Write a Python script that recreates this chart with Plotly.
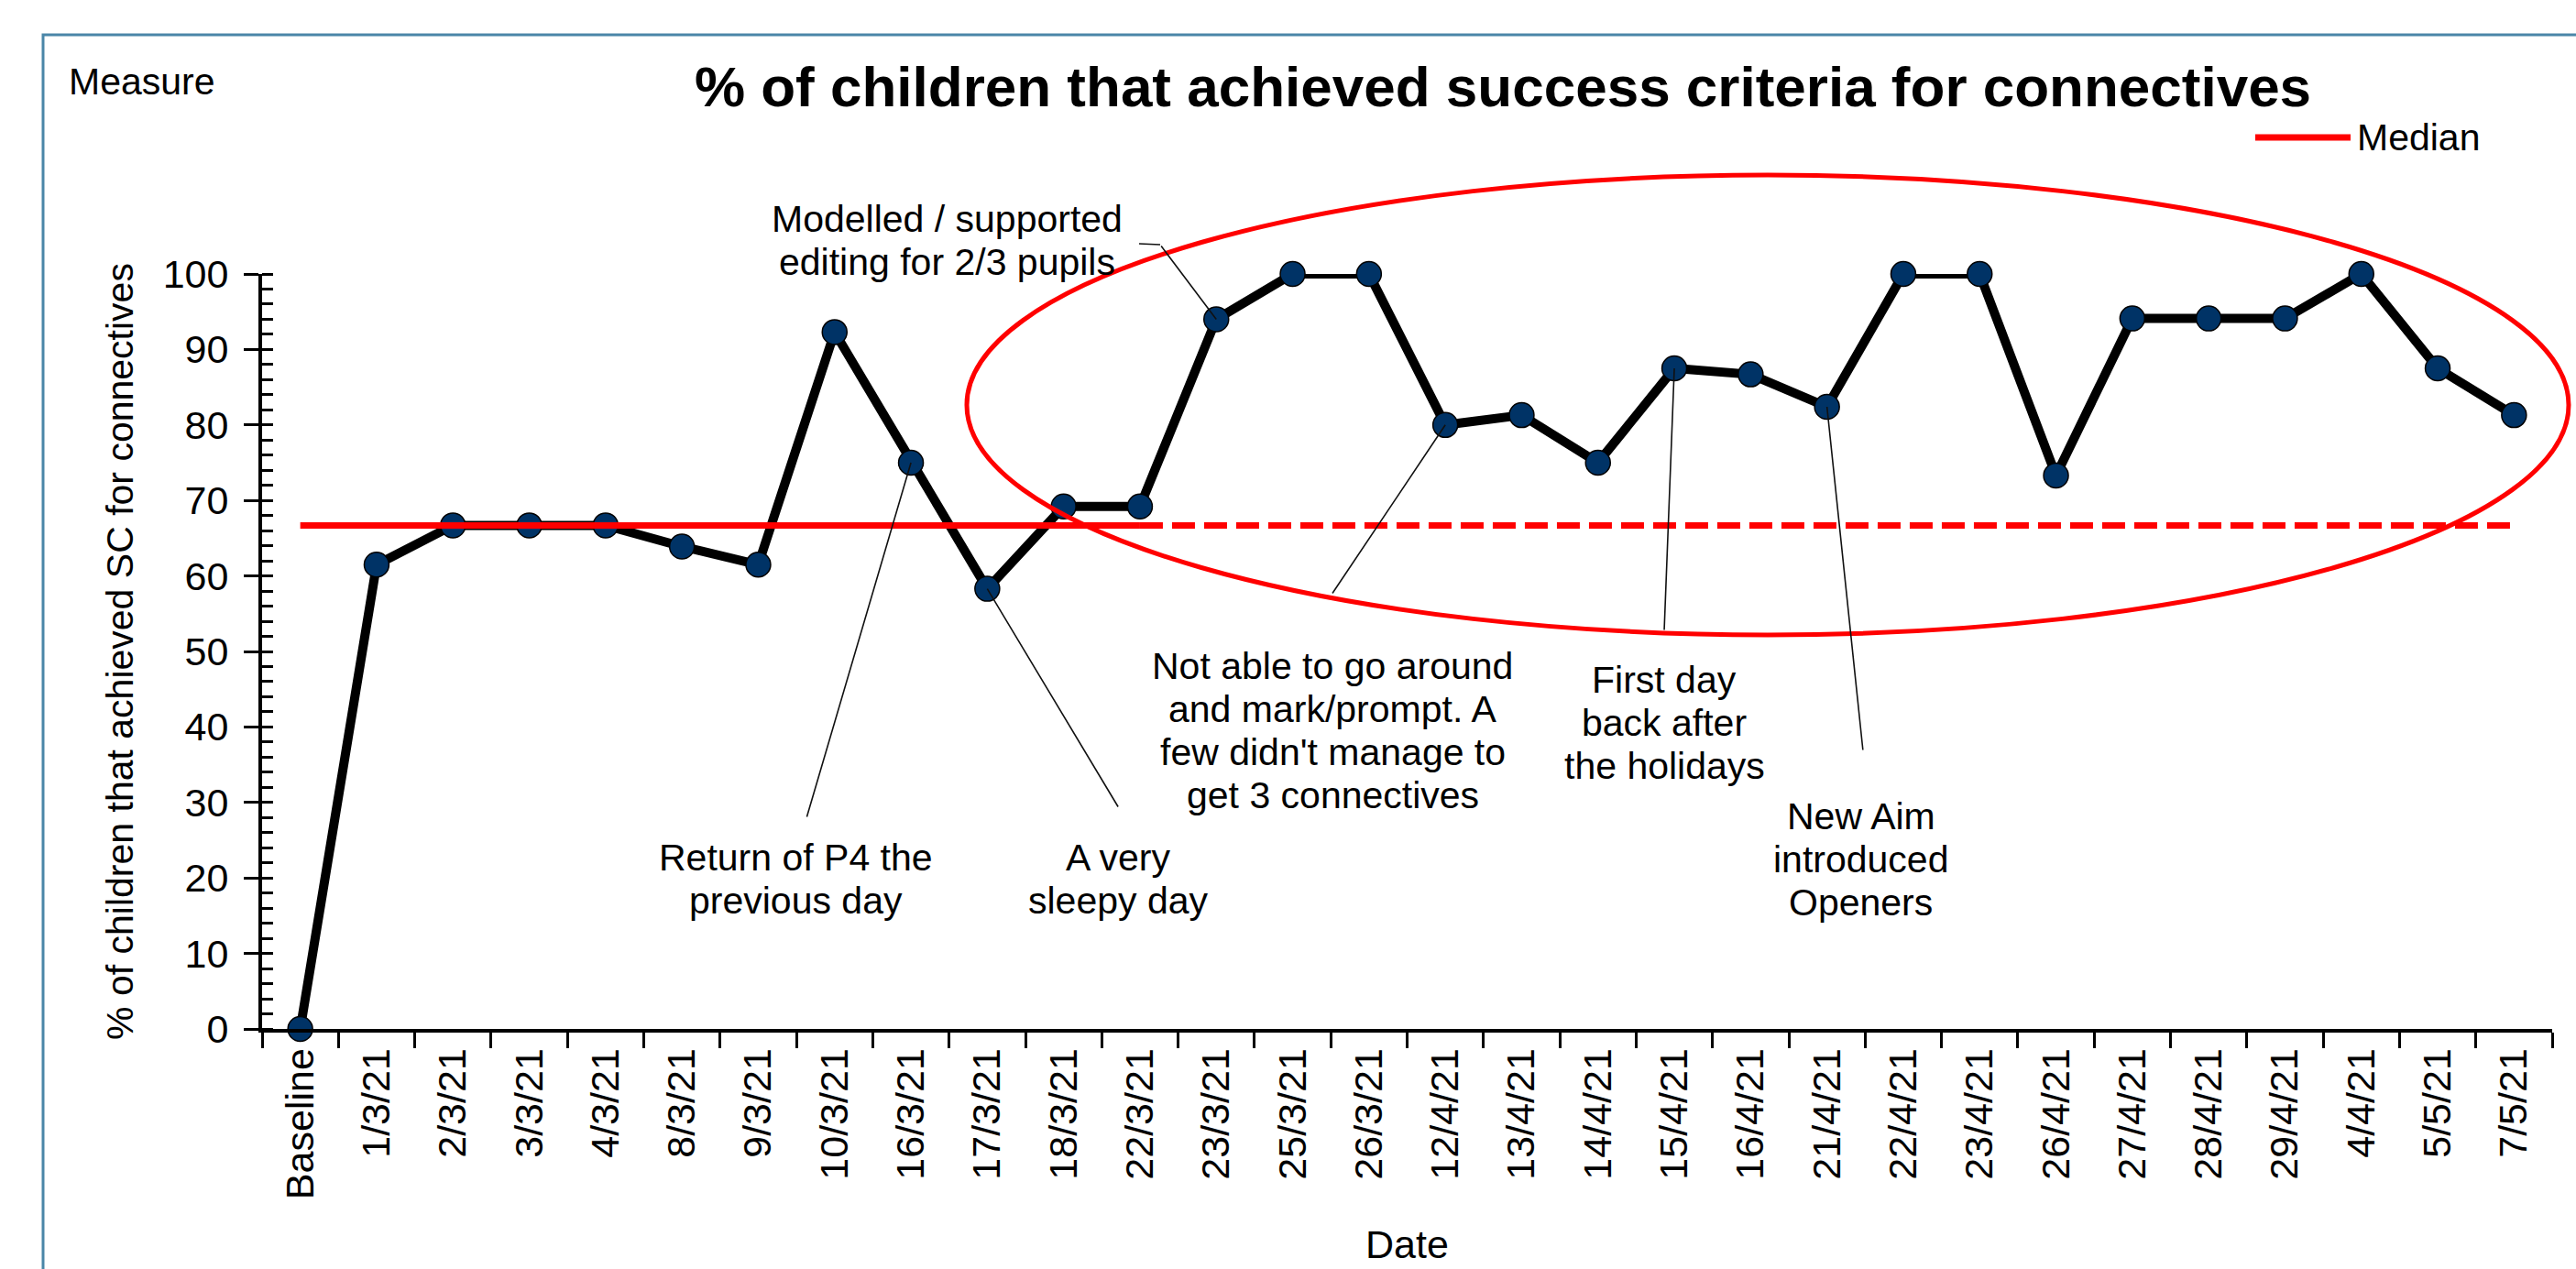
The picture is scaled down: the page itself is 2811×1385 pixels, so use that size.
import plotly.graph_objects as go

# ---- data -------------------------------------------------------------
categories = [
    "Baseline", "1/3/21", "2/3/21", "3/3/21", "4/3/21", "8/3/21", "9/3/21",
    "10/3/21", "16/3/21", "17/3/21", "18/3/21", "22/3/21", "23/3/21",
    "25/3/21", "26/3/21", "12/4/21", "13/4/21", "14/4/21", "15/4/21",
    "16/4/21", "21/4/21", "22/4/21", "23/4/21", "26/4/21", "27/4/21",
    "28/4/21", "29/4/21", "4/4/21", "5/5/21", "7/5/21",
]
pct_achieved = [
    0, 61.5, 66.7, 66.7, 66.7, 63.9, 61.5, 92.3, 75.0, 58.3, 69.2, 69.2,
    94.0, 100, 100, 80.0, 81.3, 75.0, 87.5, 86.7, 82.4, 100, 100, 73.3,
    94.1, 94.1, 94.1, 100, 87.5, 81.3,
]
median_value = 66.7
median_baseline_end = "22/3/21"   # solid median up to here, extended (dashed) after

notes = [
    ("23/3/21", ["Modelled / supported", "editing for 2/3 pupils"]),
    ("16/3/21", ["Return of P4 the", "previous day"]),
    ("17/3/21", ["A very", "sleepy day"]),
    ("12/4/21", ["Not able to go around", "and mark/prompt. A",
                 "few didn't manage to", "get 3 connectives"]),
    ("15/4/21", ["First day", "back after", "the holidays"]),
    ("21/4/21", ["New Aim", "introduced", "Openers"]),
]

# ---- page geometry (pixels) -------------------------------------------
W, H = 2811, 1385
PL, PR, PT, PB = 286, 2785, 299, 1123
CAT_W = (PR - PL) / len(categories)
Y_SCALE = (PB - PT) / 100.0
FONT = "Liberation Sans, Arial, sans-serif"
LINE_PITCH = 47


def paper_x(px):
    return (px - PL) / (PR - PL)


def paper_y(py):
    return (PB - py) / (PB - PT)


def point_px(cat):
    i = categories.index(cat)
    return PL + (i + 0.5) * CAT_W, PB - pct_achieved[i] * Y_SCALE


fig = go.Figure()

fig.add_trace(go.Scatter(
    x=categories, y=pct_achieved, mode="lines+markers",
    line=dict(color="black", width=10),
    marker=dict(size=27, color="#003366", line=dict(color="black", width=1.5)),
    cliponaxis=False, showlegend=False, name="% achieved",
))

split = categories.index(median_baseline_end)
fig.add_trace(go.Scatter(
    x=categories[:split + 1], y=[median_value] * (split + 1), mode="lines",
    line=dict(color="#FF0000", width=7), yaxis="y2", showlegend=False,
    name="Median",
))
fig.add_trace(go.Scatter(
    x=categories[split:], y=[median_value] * (len(categories) - split),
    mode="lines", line=dict(color="#FF0000", width=7, dash="25px,10px"),
    yaxis="y2", showlegend=False, name="Median (extended)",
))

# ---- annotations: callout texts and their leader lines -----------------
text_centres = [(1033, 262), (868, 959), (1220, 959), (1454, 797),
                (1816, 789), (2031, 938)]
leader_tails = [(1266, 267), (880, 893), (1221, 882), (1453, 649),
                (1816, 689), (2033, 820)]

annotations = []
for (cat, lines), (tx, ty), (lx, ly) in zip(notes, text_centres, leader_tails):
    first = ty - (len(lines) - 1) * LINE_PITCH / 2
    for k, line in enumerate(lines):
        annotations.append(dict(
            xref="paper", yref="paper", x=paper_x(tx),
            y=paper_y(first + k * LINE_PITCH),
            text=line, showarrow=False, xanchor="center", yanchor="middle",
            font=dict(family=FONT, size=41, color="black"),
        ))
    px, py = point_px(cat)
    annotations.append(dict(
        xref="x", yref="y", x=cat, y=pct_achieved[categories.index(cat)],
        text="", showarrow=True, arrowhead=0, arrowwidth=1.6,
        arrowcolor="#111111", ax=lx - px, ay=ly - py, standoff=0,
    ))

annotations += [
    dict(xref="paper", yref="paper", x=paper_x(73), y=paper_y(89),
         text="Measure", showarrow=False, xanchor="left", yanchor="middle",
         font=dict(family=FONT, size=41, color="black")),
    dict(xref="paper", yref="paper", x=paper_x(2570), y=paper_y(150),
         text="Median", showarrow=False, xanchor="left", yanchor="middle",
         font=dict(family=FONT, size=41, color="black")),
    # x-axis title
    dict(xref="paper", yref="paper", x=0.5, y=paper_y(1384),
         text="Date", showarrow=False, xanchor="center", yanchor="bottom",
         font=dict(family=FONT, size=43, color="black")),
]

shapes = [
    # chart frame
    dict(type="rect", xref="paper", yref="paper",
         x0=paper_x(47), x1=paper_x(W + 20), y0=paper_y(H + 20), y1=paper_y(38),
         line=dict(color="#4a86a8", width=3), fillcolor="rgba(0,0,0,0)"),
    # legend key for the median
    dict(type="line", xref="paper", yref="paper",
         x0=paper_x(2461), x1=paper_x(2565), y0=paper_y(150), y1=paper_y(150),
         line=dict(color="#FF0000", width=7)),
    # short elbow on the "Modelled" callout
    dict(type="line", xref="paper", yref="paper",
         x0=paper_x(1243), x1=paper_x(1266), y0=paper_y(266), y1=paper_y(267),
         line=dict(color="#111111", width=1.6)),
    # ring around the sustained shift
    dict(type="circle", xref="paper", yref="paper",
         x0=paper_x(1055), x1=paper_x(2803), y0=paper_y(693), y1=paper_y(191),
         line=dict(color="#FF0000", width=5), fillcolor="rgba(0,0,0,0)"),
]

axis_font = dict(family=FONT, size=43, color="black")

fig.update_layout(
    width=W, height=H,
    margin=dict(l=PL, r=W - PR, t=PT, b=H - PB, autoexpand=False),
    paper_bgcolor="white", plot_bgcolor="white",
    font=dict(family=FONT, color="black"),
    showlegend=False,
    title=dict(
        text="<b>% of children that achieved success criteria for connectives</b>",
        font=dict(family=FONT, size=62, color="black"),
        x=1640 / W, xanchor="center", y=1 - 94 / H, yanchor="middle",
    ),
    xaxis=dict(
        type="category", range=[-0.5, len(categories) - 0.5],
        showline=True, linecolor="black", linewidth=4,
        ticks="outside", tickson="boundaries", ticklen=17, tickwidth=2.5,
        tickcolor="black", tickangle=-90, tickfont=axis_font,
        showgrid=False, zeroline=False,
    ),
    yaxis=dict(
        range=[0, 100], tick0=0, dtick=10,
        showline=True, linecolor="black", linewidth=4,
        ticks="outside", ticklen=16, tickwidth=3, tickcolor="black",
        minor=dict(ticks="inside", dtick=2, ticklen=12, tickwidth=2.5,
                   tickcolor="black"),
        tickfont=axis_font, ticklabelstandoff=8,
        showgrid=False, zeroline=False,
        title=dict(text="% of children that achieved SC for connectives",
                   font=dict(family=FONT, size=41, color="black"), standoff=20),
    ),
    yaxis2=dict(
        overlaying="y", anchor="x", side="left", range=[0, 100],
        tick0=0, dtick=10, ticks="inside", ticklen=12, tickwidth=3,
        tickcolor="black", showticklabels=False, showline=False,
        showgrid=False, zeroline=False,
    ),
    annotations=annotations,
    shapes=shapes,
)

fig.write_html("out.html")
